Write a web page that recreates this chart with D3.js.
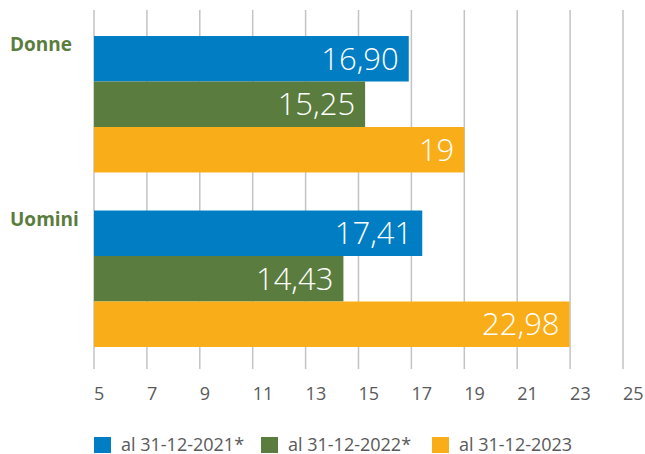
<!DOCTYPE html>
<html>
<head>
<meta charset="utf-8">
<script src="https://cdn.jsdelivr.net/npm/d3@7"></script>
<style>
  body { margin: 0; background: #fff; }
  svg { font-family: "Open Sans", sans-serif; display: block; }
</style>
</head>
<body>
<svg id="chart" width="645" height="454"></svg>
<script>
// categories and series
var categories = ["Donne", "Uomini"];
var seriesNames = ["al 31-12-2021*", "al 31-12-2022*", "al 31-12-2023"];
var values2021 = [16.90, 17.41];
var values2022 = [15.25, 14.43];
var values2023 = [19, 22.98];
var labels2021 = ["16,90", "17,41"];
var labels2022 = ["15,25", "14,43"];
var labels2023 = ["19", "22,98"];
var tickValues = [5, 7, 9, 11, 13, 15, 17, 19, 21, 23, 25];

var colors = ["#007dc3", "#5a7c3e", "#f9ae19"];

window.onload = function()
{
  drawChart();
}

function drawChart()
{
  var svg = d3.select("#chart");

  // table of bars built from the arrays above
  var series = [
    { name: seriesNames[0], values: values2021, labels: labels2021 },
    { name: seriesNames[1], values: values2022, labels: labels2022 },
    { name: seriesNames[2], values: values2023, labels: labels2023 }
  ];

  var x = d3.scaleLinear()
    .domain([5, 25])
    .range([94, 623]);

  // outer band: one per category
  var y0 = d3.scaleBand()
    .domain(categories)
    .range([17, 366])
    .paddingInner(0.218)
    .paddingOuter(0.109);

  // inner band: one per series
  var y1 = d3.scaleBand()
    .domain(seriesNames)
    .range([0, y0.bandwidth()]);

  // vertical gridlines
  svg.append("g")
    .selectAll("line")
    .data(tickValues)
    .enter().append("line")
      .attr("x1", function(d){ return x(d); })
      .attr("x2", function(d){ return x(d); })
      .attr("y1", 10)
      .attr("y2", 369)
      .attr("stroke", "#c3c3c3")
      .attr("stroke-width", 1.5);

  // tick labels, left aligned to each gridline
  svg.append("g")
    .selectAll("text")
    .data(tickValues)
    .enter().append("text")
      .attr("x", function(d){ return x(d); })
      .attr("y", 400)
      .attr("font-size", 18)
      .attr("fill", "#595959")
      .text(function(d){ return d; });

  // bars
  var groups = svg.append("g")
    .selectAll("g")
    .data(series)
    .enter().append("g")
      .attr("fill", function(d, i){ return colors[i]; });

  groups.selectAll("rect")
    .data(function(s){
      return categories.map(function(c, i){
        return { cat: c, name: s.name, value: s.values[i], label: s.labels[i] };
      });
    })
    .enter().append("rect")
      .attr("x", x(5))
      .attr("y", function(d){ return y0(d.cat) + y1(d.name); })
      .attr("width", function(d){ return x(d.value) - x(5); })
      .attr("height", y1.bandwidth());

  // value labels inside the bar end
  groups.selectAll("text")
    .data(function(s){
      return categories.map(function(c, i){
        return { cat: c, name: s.name, value: s.values[i], label: s.labels[i] };
      });
    })
    .enter().append("text")
      .attr("x", function(d){ return x(d.value) - 10; })
      .attr("y", function(d){ return y0(d.cat) + y1(d.name) + y1.bandwidth() / 2 + 11; })
      .attr("text-anchor", "end")
      .attr("font-size", 31)
      .attr("font-weight", 300)
      .attr("fill", "#fff")
      .text(function(d){ return d.label; });

  // category labels
  svg.append("g")
    .selectAll("text")
    .data(categories)
    .enter().append("text")
      .attr("x", 10)
      .attr("y", function(d){ return y0(d) + 15; })
      .attr("font-size", 19)
      .attr("font-weight", "bold")
      .attr("fill", "#5a7d3e")
      .text(function(d){ return d; });

  // legend
  var legendX = [94, 261, 432];
  var legend = svg.append("g")
    .selectAll("g")
    .data(seriesNames)
    .enter().append("g")
      .attr("transform", function(d, i){ return "translate(" + legendX[i] + ",437)"; });

  legend.append("rect")
    .attr("width", 17)
    .attr("height", 16)
    .attr("fill", function(d, i){ return colors[i]; });

  legend.append("text")
    .attr("x", 27)
    .attr("y", 13.5)
    .attr("font-size", 18)
    .attr("fill", "#595959")
    .text(function(d){ return d; });
}
</script>
</body>
</html>
